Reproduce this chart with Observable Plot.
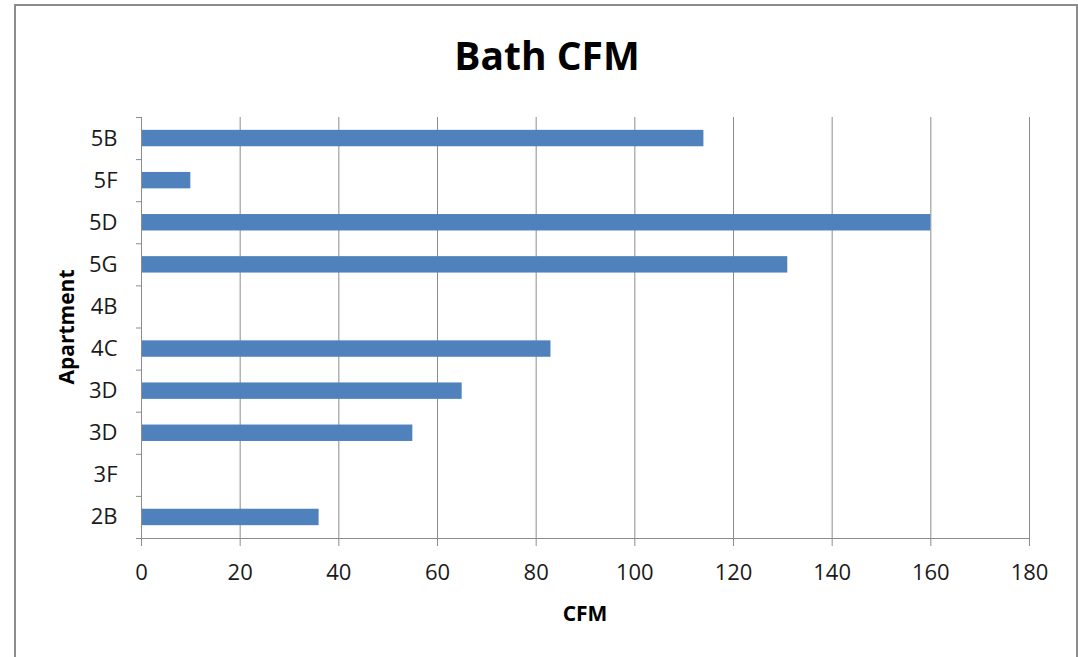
<!DOCTYPE html>
<html>
<head>
<meta charset="utf-8">
<script src="https://cdn.jsdelivr.net/npm/d3@7"></script>
<script src="https://cdn.jsdelivr.net/npm/@observablehq/plot@0.6"></script>
<style>
  html, body { margin: 0; padding: 0; background: #fff; width: 1078px; height: 657px; overflow: hidden; }
  #frame { position: absolute; left: 14px; top: 4px; width: 1064px; height: 720px; border: 2px solid #8c8c8c; box-sizing: border-box; }
  #chart { position: absolute; left: 0; top: 0; }
  .lbl { position: absolute; font-family: "Open Sans", sans-serif; font-weight: bold; color: #000; line-height: 1; white-space: nowrap; }
  #title { left: 8px; width: 1078px; top: 35px; text-align: center; font-size: 39px; }
  #xlabel { left: 0; width: 1170px; top: 603px; text-align: center; font-size: 21px; }
  #ylabel { left: 66px; top: 327px; font-size: 21px; transform: translate(-50%, -50%) rotate(-90deg); }
</style>
</head>
<body>
<div id="frame"></div>
<div id="chart"></div>
<div class="lbl" id="title">Bath CFM</div>
<div class="lbl" id="xlabel">CFM</div>
<div class="lbl" id="ylabel">Apartment</div>
<script>
// Data (top to bottom as shown)
const apartments = ["5B", "5F", "5D", "5G", "4B", "4C", "3D", "3D", "3F", "2B"];
const cfm = [114, 10, 160, 131, null, 83, 65, 55, null, 36];
const xTicks = [0, 20, 40, 60, 80, 100, 120, 140, 160, 180];

const rows = apartments.map((name, i) => ({ i, name, value: cfm[i] }));
const bars = rows.filter(d => d.value != null);
const halfBar = 0.195;
const boundaries = d3.range(apartments.length + 1);
const centers = apartments.map((_, i) => i + 0.5);

const grid = "#8c8c8c";

const plot = Plot.plot({
  width: 1078,
  height: 657,
  marginLeft: 141,
  marginRight: 49,
  marginTop: 117,
  marginBottom: 119,
  style: { fontFamily: "'Open Sans', sans-serif", fontSize: "22px", color: "#1a1a1a", background: "transparent" },
  x: { domain: [0, 180], label: null },
  y: { domain: [0, apartments.length], reverse: true, label: null },
  marks: [
    Plot.ruleX(xTicks.filter(d => d > 0), { stroke: grid, strokeWidth: 1 }),
    Plot.rectX(bars, {
      x1: 0,
      x2: "value",
      y1: d => d.i + 0.5 - halfBar,
      y2: d => d.i + 0.5 + halfBar,
      fill: "#4F81BD"
    }),
    Plot.ruleY([apartments.length], { stroke: grid, strokeWidth: 1 }),
    Plot.ruleX([0], { stroke: grid, strokeWidth: 1 }),
    Plot.axisX({ ticks: xTicks, tickSize: 8, tickPadding: 18, stroke: grid, tickFormat: d => String(d), label: null }),
    Plot.axisY({ ticks: boundaries, tickSize: 5, stroke: grid, tickFormat: () => "", label: null }),
    Plot.axisY({ ticks: centers, tickSize: 0, tickPadding: 24, tickFormat: d => apartments[Math.floor(d)], label: null })
  ]
});
document.getElementById("chart").appendChild(plot);
</script>
</body>
</html>
